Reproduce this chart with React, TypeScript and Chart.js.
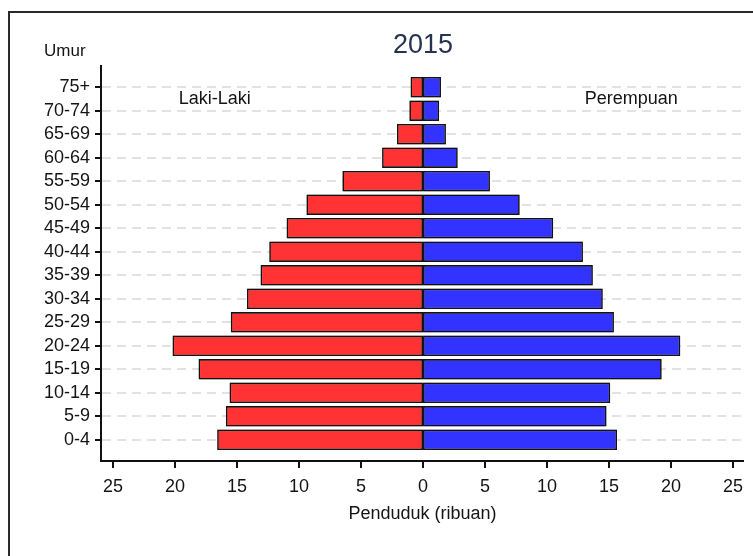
import React, { useEffect, useRef } from 'react';
import { Chart, registerables } from 'chart.js';

Chart.register(...registerables);

const titleText = '2015';
const yAxisTitle = 'Umur';
const xAxisTitle = 'Penduduk (ribuan)';
const maleLabel = 'Laki-Laki';
const femaleLabel = 'Perempuan';

// bottom to top
const ageGroups = ['0-4', '5-9', '10-14', '15-19', '20-24', '25-29', '30-34', '35-39', '40-44', '45-49', '50-54', '55-59', '60-64', '65-69', '70-74', '75+'];
const male = [16.6, 15.9, 15.6, 18.1, 20.2, 15.5, 14.2, 13.1, 12.4, 11.0, 9.4, 6.5, 3.3, 2.1, 1.1, 1.0];
const female = [15.65, 14.8, 15.1, 19.25, 20.75, 15.4, 14.5, 13.7, 12.9, 10.5, 7.8, 5.4, 2.8, 1.85, 1.3, 1.45];
const xTicks = [-25, -20, -15, -10, -5, 0, 5, 10, 15, 20, 25];

const FONT = '"Liberation Sans", Arial, sans-serif';
const TEXT = '#141414';

const haloPlugin = {
  id: 'halo',
  beforeDatasetsDraw(chart: any) {
    const ctx = chart.ctx;
    ctx.save();
    ctx.shadowColor = 'rgba(0,0,0,0.4)';
    ctx.shadowBlur = 2;
    ctx.shadowOffsetX = 0;
    ctx.shadowOffsetY = 0;
  },
  afterDatasetsDraw(chart: any) {
    chart.ctx.restore();
  },
};

const decorPlugin = {
  id: 'decor',
  afterDraw(chart: any) {
    const { ctx, scales } = chart;
    const x = scales.x;
    const y = scales.y;
    ctx.save();
    // outer frame
    ctx.strokeStyle = '#2a2a2a';
    ctx.lineWidth = 2;
    ctx.beginPath();
    ctx.moveTo(9, 600);
    ctx.lineTo(9, 12);
    ctx.lineTo(800, 12);
    ctx.stroke();
    // title
    ctx.fillStyle = '#26324f';
    ctx.font = `27px ${FONT}`;
    ctx.textAlign = 'center';
    ctx.textBaseline = 'middle';
    ctx.fillText(titleText, x.getPixelForValue(0), 46);
    // y axis title
    ctx.fillStyle = TEXT;
    ctx.font = `17px ${FONT}`;
    ctx.textAlign = 'left';
    ctx.fillText(yAxisTitle, 44, 51);
    // series labels
    ctx.font = `18px ${FONT}`;
    ctx.textAlign = 'center';
    const ly = y.getPixelForValue(14.5);
    ctx.fillText(maleLabel, x.getPixelForValue(-16.8), ly);
    ctx.fillText(femaleLabel, x.getPixelForValue(16.8), ly);
    ctx.restore();
  },
};

export default function App() {
  const ref = useRef<HTMLCanvasElement | null>(null);
  useEffect(() => {
    if (!ref.current) return;
    const chart = new Chart(ref.current, {
      type: 'bar',
      data: {
        datasets: [
          {
            label: maleLabel,
            data: ageGroups.map((_, i) => ({ x: -male[i], y: i })),
            backgroundColor: '#ff3333',
            borderColor: '#141414',
            borderWidth: 1.6,
            borderSkipped: false,
            inflateAmount: 0,
          },
          {
            label: femaleLabel,
            data: ageGroups.map((_, i) => ({ x: female[i], y: i })),
            backgroundColor: '#3333ff',
            borderColor: '#141414',
            borderWidth: 1.6,
            borderSkipped: false,
            inflateAmount: 0,
          },
        ],
      },
      options: {
        indexAxis: 'y',
        animation: false,
        responsive: false,
        maintainAspectRatio: false,
        categoryPercentage: 0.87,
        barPercentage: 1,
        layout: { padding: { left: 0, right: 9, top: 66, bottom: 15 } },
        plugins: { legend: { display: false }, tooltip: { enabled: false }, title: { display: false } },
        scales: {
          x: {
            type: 'linear',
            stacked: true,
            offset: false,
            min: -25.97,
            max: 25.89,
            afterFit: (s: any) => { s.height = 80; },
            afterBuildTicks: (s: any) => { s.ticks = xTicks.map((v) => ({ value: v })); },
            ticks: {
              stepSize: 5,
              includeBounds: false,
              autoSkip: false,
              maxRotation: 0,
              padding: 8,
              color: TEXT,
              font: { family: FONT, size: 18 },
              callback: (v: any) => String(Math.abs(Number(v))),
            },
            grid: {
              offset: false,
              drawOnChartArea: false,
              drawTicks: true,
              lineWidth: 0,
              tickLength: 7,
              tickColor: '#111',
              tickWidth: 2,
            },
            border: { display: true, color: '#111', width: 2 },
            title: {
              display: true,
              text: xAxisTitle,
              color: TEXT,
              font: { family: FONT, size: 18 },
              padding: { top: 0, bottom: 16 },
            },
          },
          y: {
            type: 'linear',
            stacked: true,
            offset: false,
            min: -0.9,
            max: 15.9,
            afterFit: (s: any) => { s.width = 101; },
            ticks: {
              stepSize: 1,
              includeBounds: false,
              autoSkip: false,
              padding: 5,
              color: TEXT,
              font: { family: FONT, size: 18 },
              callback: (v: any) => ageGroups[Number(v)] ?? '',
            },
            grid: {
              offset: false,
              drawOnChartArea: true,
              color: '#e2e2e2',
              lineWidth: 2,
              tickLength: 6,
              tickColor: '#111',
              tickWidth: 2,
              tickBorderDash: [],
            },
            border: { display: true, color: '#111', width: 2, dash: [9, 6] },
          },
        },
      },
      plugins: [haloPlugin, decorPlugin],
    } as any);
    return () => chart.destroy();
  }, []);
  return (
    <div style={{ position: 'absolute', left: 0, top: 0, width: 753, height: 556, background: '#fff' }}>
      <canvas ref={ref} width={753} height={556} style={{ display: 'block' }} />
    </div>
  );
}
